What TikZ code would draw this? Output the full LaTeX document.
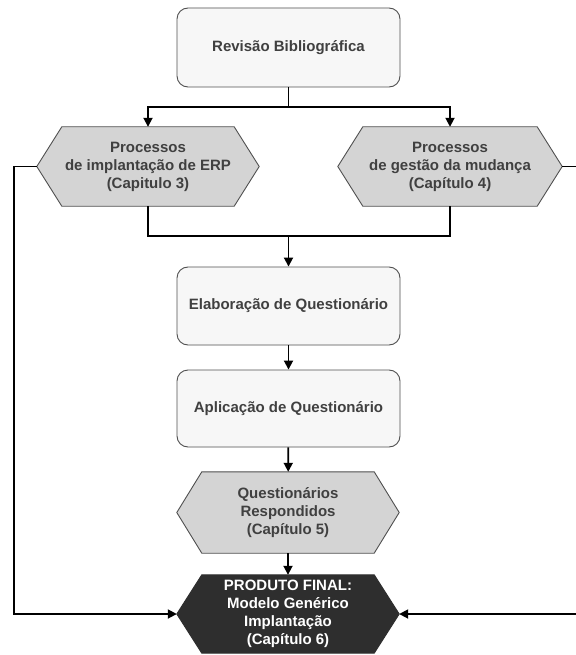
\documentclass[tikz,border=0pt]{standalone}
\usepackage{fontspec}
\setmainfont{Liberation Sans}
\usetikzlibrary{arrows.meta,backgrounds}

\definecolor{boxfill}{HTML}{F7F7F7}
\definecolor{hexfill}{HTML}{D4D4D4}
\definecolor{darkfill}{HTML}{2E2E2E}
\definecolor{txt}{HTML}{404040}
\definecolor{edge}{HTML}{505050}

\newcommand{\lblfont}{\fontsize{15}{18}\selectfont\bfseries}
% hexagon outline around a rectangular node: #1 node name, #2 path options
\newcommand{\hexoutline}[2]{%
  \path[#2] (#1.west) -- ([xshift=25pt]#1.north west) -- ([xshift=-25pt]#1.north east)
    -- (#1.east) -- ([xshift=-25pt]#1.south east) -- ([xshift=25pt]#1.south west) -- cycle;}

\tikzset{
  stepbox/.style={rectangle, rounded corners=11pt, draw=edge, line width=0.9pt,
    fill=boxfill, minimum width=223pt, minimum height=79pt, inner sep=0pt,
    text=txt, font=\lblfont, align=center},
  hexnode/.style={rectangle, minimum width=222pt, minimum height=79pt, inner sep=0pt,
    text=txt, font=\lblfont, align=center},
  hexgray/.style={fill=hexfill, draw=edge, line width=0.9pt},
  hexdark/.style={fill=darkfill, draw=darkfill, line width=0.9pt},
  conn/.style={line width=1.8pt, black},
  arr/.style={conn, -{Triangle[width=9pt,length=9pt]}},
}

\begin{document}
\begin{tikzpicture}[x=1pt, y=1pt]
  \useasboundingbox (0,0) rectangle (575,-655);

  % process boxes
  \node[stepbox] (rev)   at (288.5,-47.5) {Revisão Bibliográfica};
  \node[stepbox, minimum height=78pt] (elab)  at (288.5,-306) {Elaboração de Questionário};
  \node[stepbox, minimum height=77pt] (aplic) at (288.5,-408.5) {Aplicação de Questionário};

  % hexagonal results
  \node[hexnode] (erp) at (148,-166.5) {Processos\\de implantação de ERP\\(Capitulo 3)};
  \node[hexnode, minimum width=224pt] (gm) at (450,-166.5) {Processos\\de gestão da mudança\\(Capítulo 4)};
  \node[hexnode, minimum height=81pt] (resp) at (288,-512.5) {Questionários\\Respondidos\\(Capítulo 5)};
  \node[hexnode, minimum height=78pt, text=white] (final) at (288,-614)
    {PRODUTO FINAL:\\Modelo Genérico\\Implantação\\(Capítulo 6)};

  \begin{pgfonlayer}{background}
    \fill[white] (0,0) rectangle (575,-655);
    \hexoutline{erp}{hexgray}
    \hexoutline{gm}{hexgray}
    \hexoutline{resp}{hexgray}
    \hexoutline{final}{hexdark}
  \end{pgfonlayer}

  % connectors
  \coordinate (split) at (288.5,-107);
  \coordinate (join)  at (288.5,-236);
  \draw[conn] (rev.south) -- (split);
  \draw[arr] (split) -| (erp.north);
  \draw[arr] (split) -| (gm.north);
  \draw[conn] (erp.south) |- (join);
  \draw[conn] (gm.south) |- (join);
  \draw[arr] (join) -- (elab.north);
  \draw[arr] (elab) -- (aplic);
  \draw[arr] (aplic) -- (resp);
  \draw[arr] (resp) -- (final);

  % feedback paths into the final product
  \draw[arr] (erp.west) -- ++(-23,0) |- (final.west);
  \draw[arr] (gm.east) -- ++(16,0) |- (final.east);
\end{tikzpicture}
\end{document}
